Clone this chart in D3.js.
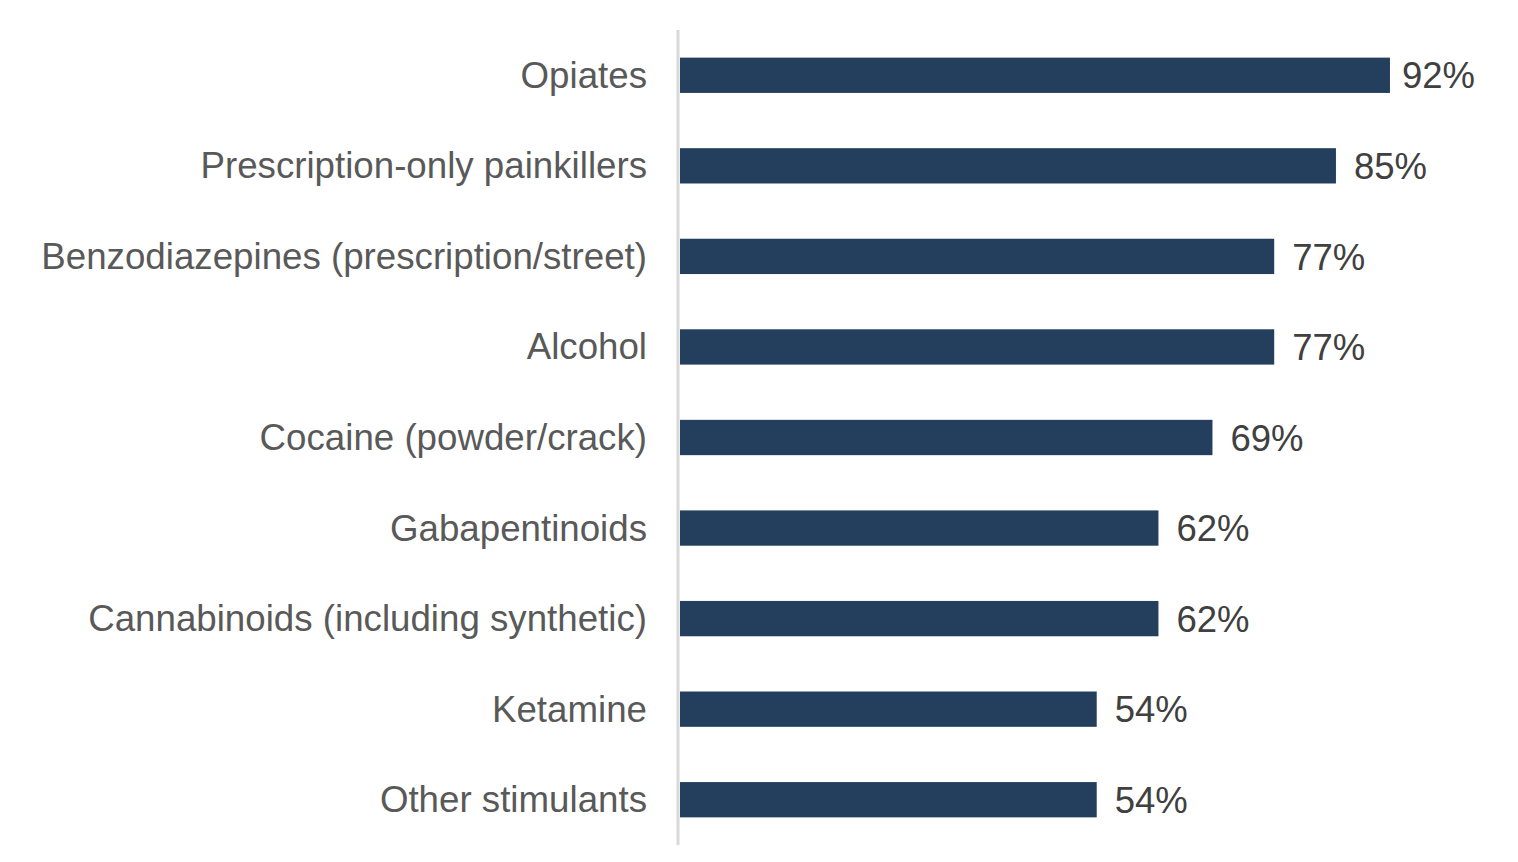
<!DOCTYPE html>
<html>
<head>
<meta charset="utf-8">
<script src="https://cdn.jsdelivr.net/npm/d3@7"></script>
<style>
  body { margin: 0; background: #fff; }
  text { font-family: "Liberation Sans", Arial, sans-serif; }
</style>
</head>
<body>
<svg id="chart"></svg>
<script>
const categories = ['Opiates', 'Prescription-only painkillers', 'Benzodiazepines (prescription/street)',
    'Alcohol', 'Cocaine (powder/crack)', 'Gabapentinoids', 'Cannabinoids (including synthetic)',
    'Ketamine', 'Other stimulants']
const values = [92, 85, 77, 77, 69, 62, 62, 54, 54]

const W = 1518, H = 862,
    x0 = 680,
    rightEdge = 1475

const svg = d3.select('#chart')
    .attr('width', W)
    .attr('height', H)

// Scales
const x = d3.scaleLinear().domain([0, 100]).range([x0, x0 + 771.7])
const y = d3.scaleBand().domain(categories).range([30, 845]).paddingInner(0.61).paddingOuter(0.305)

// Bars
svg.append('g').selectAll('rect')
    .data(values)
    .join('rect')
    .attr('x', x(0))
    .attr('y', (d, i) => y(categories[i]))
    .attr('width', d => x(d) - x(0))
    .attr('height', y.bandwidth())
    .attr('fill', '#243f5e')

// Value labels (pulled in if they would run past the right edge)
svg.append('g').selectAll('text')
    .data(values)
    .join('text')
    .attr('y', (d, i) => y(categories[i]) + y.bandwidth() / 2)
    .attr('dy', '0.36em')
    .attr('font-size', 36.5)
    .attr('fill', '#404040')
    .text(d => d + '%')
    .attr('x', function (d) {
        const w = this.getComputedTextLength()
        return Math.min(x(d) + 18, rightEdge - w)
    })

// Category axis
const axis = svg.append('g')
    .attr('transform', `translate(${x0 - 2},0)`)
    .call(d3.axisLeft(y).tickSize(0).tickPadding(31))
axis.select('.domain').attr('stroke', '#d9d9d9').attr('stroke-width', 3)
    .attr('d', `M0,30V845`)
axis.selectAll('text')
    .attr('font-size', 36.7)
    .attr('font-family', '"Liberation Sans", Arial, sans-serif')
    .attr('fill', '#595959')
    .attr('dy', '0.34em')
</script>
</body>
</html>
